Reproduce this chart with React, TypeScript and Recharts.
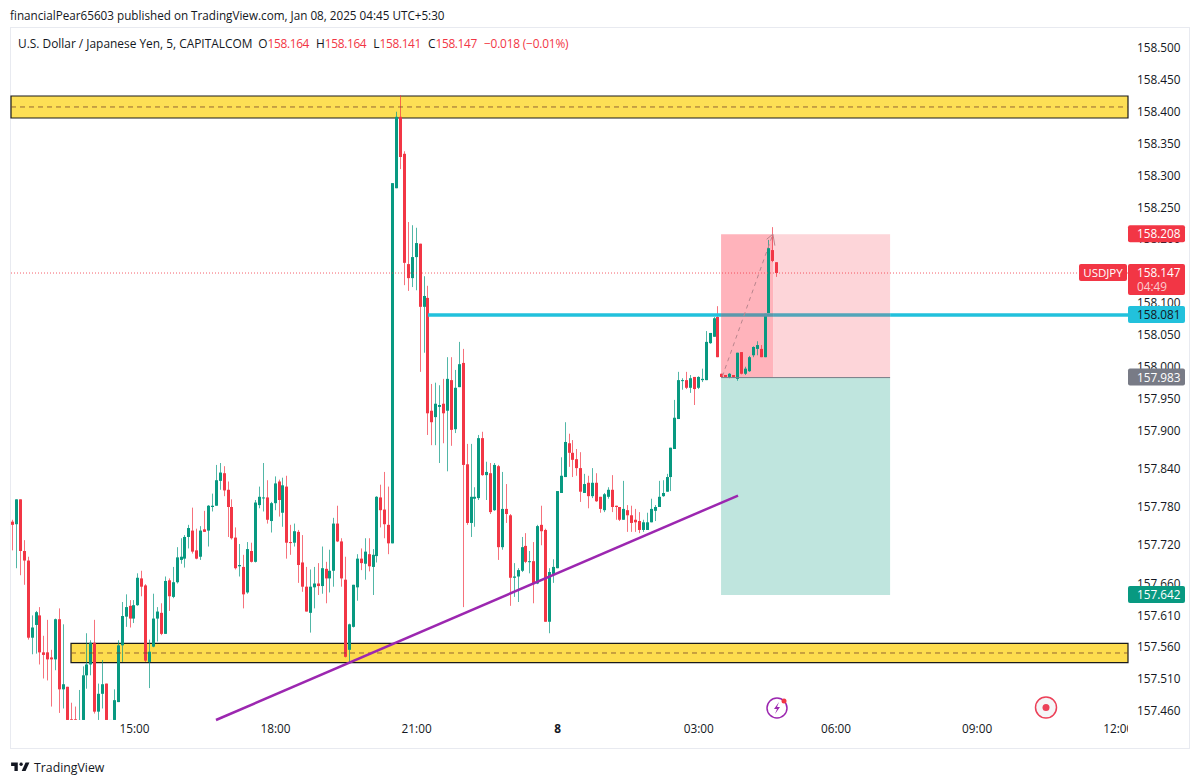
// App.tsx - USD/JPY 5 minute chart, TradingView snapshot style
import {
  Bar,
  ComposedChart,
  ReferenceArea,
  ReferenceLine,
  XAxis,
  YAxis,
} from "recharts";

const UP = "#089981";
const DOWN = "#f23645";
const CYAN = "#22c1dc";
const FONT = "'Open Sans', 'Noto Sans', sans-serif";
const PRICE_DOMAIN = [157.4459, 158.5235];

const opens = [
  157.757, 157.753, 157.792, 157.711, 157.696, 157.575, 157.595, 157.61, 157.552, 157.552,
  157.544, 157.541, 157.604, 157.494, 157.498, 157.447, 157.447, 157.446, 157.446, 157.516,
  157.533, 157.567, 157.459, 157.487, 157.503, 157.446, 157.446, 157.474, 157.563, 157.608,
  157.625, 157.605, 157.626, 157.668, 157.657, 157.537, 157.561, 157.605, 157.614, 157.581,
  157.665, 157.639, 157.662, 157.697, 157.699, 157.733, 157.743, 157.712, 157.702, 157.745,
  157.743, 157.78, 157.782, 157.821, 157.833, 157.807, 157.78, 157.732, 157.687, 157.686,
  157.646, 157.711, 157.694, 157.783, 157.794, 157.795, 157.758, 157.786, 157.82, 157.771,
  157.812, 157.725, 157.724, 157.741, 157.693, 157.655, 157.614, 157.654, 157.66, 157.656,
  157.683, 157.668, 157.68, 157.754, 157.726, 157.666, 157.556, 157.592, 157.654, 157.699,
  157.691, 157.706, 157.686, 157.703, 157.795, 157.776, 157.752, 157.723, 158.28, 158.392,
  158.334, 158.161, 158.139, 158.172, 158.193, 158.094, 158.108, 157.931, 157.921, 157.937,
  157.942, 157.931, 157.979, 157.902, 157.968, 158.006, 157.847, 157.755, 157.793, 157.794,
  157.888, 157.83, 157.833, 157.775, 157.844, 157.717, 157.777, 157.767, 157.669, 157.671,
  157.68, 157.719, 157.694, 157.695, 157.66, 157.752, 157.744, 157.6, 157.675, 157.684,
  157.802, 157.827, 157.88, 157.865, 157.855, 157.841, 157.802, 157.818, 157.797, 157.818,
  157.796, 157.775, 157.796, 157.807, 157.782, 157.78, 157.76, 157.775, 157.767, 157.76,
  157.758, 157.744, 157.744, 157.756, 157.774, 157.78, 157.797, 157.804, 157.827, 157.871,
  157.918, 157.978, 157.979, 157.967, 157.984, 157.967, 157.979, 157.979, 158.037, 158.047,
  158.078, 157.989, 157.987, 157.984, 157.987, 157.981, 158.023, 157.989, 157.993, 158.018,
  158.028, 158.028, 158.015, 158.084, 158.183, 158.164,
];

const highs = [
  157.76, 157.792, 157.792, 157.728, 157.702, 157.61, 157.617, 157.623, 157.578, 157.603,
  157.556, 157.605, 157.621, 157.596, 157.498, 157.473, 157.467, 157.493, 157.53, 157.582,
  157.571, 157.603, 157.503, 157.54, 157.503, 157.446, 157.494, 157.571, 157.631, 157.643,
  157.634, 157.634, 157.676, 157.68, 157.659, 157.572, 157.644, 157.623, 157.629, 157.671,
  157.668, 157.686, 157.717, 157.731, 157.736, 157.752, 157.779, 157.746, 157.75, 157.774,
  157.783, 157.801, 157.846, 157.849, 157.844, 157.82, 157.792, 157.748, 157.722, 157.705,
  157.725, 157.724, 157.791, 157.812, 157.849, 157.822, 157.788, 157.828, 157.823, 157.826,
  157.829, 157.752, 157.754, 157.744, 157.736, 157.686, 157.682, 157.686, 157.692, 157.718,
  157.694, 157.713, 157.763, 157.782, 157.731, 157.702, 157.597, 157.658, 157.706, 157.715,
  157.731, 157.731, 157.714, 157.797, 157.815, 157.835, 157.812, 158.288, 158.4, 158.426,
  158.338, 158.227, 158.222, 158.218, 158.193, 158.142, 158.127, 157.973, 157.975, 157.971,
  157.981, 158.015, 158.015, 157.995, 158.039, 158.028, 157.879, 157.879, 157.811, 157.893,
  157.898, 157.851, 157.849, 157.849, 157.846, 157.835, 157.816, 157.769, 157.692, 157.684,
  157.733, 157.739, 157.711, 157.725, 157.752, 157.782, 157.746, 157.684, 157.698, 157.805,
  157.858, 157.913, 157.895, 157.885, 157.871, 157.866, 157.832, 157.829, 157.841, 157.833,
  157.796, 157.802, 157.811, 157.83, 157.782, 157.78, 157.821, 157.783, 157.782, 157.777,
  157.772, 157.76, 157.771, 157.793, 157.783, 157.821, 157.822, 157.832, 157.873, 157.948,
  157.992, 157.982, 157.992, 157.987, 157.984, 157.985, 157.997, 158.056, 158.053, 158.078,
  158.095, 157.989, 157.987, 157.99, 157.987, 158.022, 158.023, 158.0, 158.017, 158.032,
  158.04, 158.034, 158.083, 158.199, 158.219, 158.164,
];

const lows = [
  157.712, 157.684, 157.673, 157.658, 157.572, 157.549, 157.55, 157.533, 157.511, 157.508,
  157.467, 157.524, 157.457, 157.464, 157.446, 157.446, 157.446, 157.446, 157.446, 157.495,
  157.516, 157.456, 157.446, 157.464, 157.446, 157.446, 157.446, 157.474, 157.537, 157.592,
  157.591, 157.598, 157.625, 157.64, 157.537, 157.496, 157.56, 157.569, 157.579, 157.581,
  157.617, 157.637, 157.66, 157.691, 157.685, 157.715, 157.707, 157.698, 157.697, 157.741,
  157.718, 157.773, 157.782, 157.807, 157.797, 157.733, 157.729, 157.682, 157.671, 157.621,
  157.644, 157.693, 157.693, 157.778, 157.773, 157.754, 157.74, 157.775, 157.765, 157.749,
  157.699, 157.705, 157.718, 157.661, 157.647, 157.616, 157.583, 157.621, 157.642, 157.644,
  157.629, 157.646, 157.655, 157.725, 157.655, 157.544, 157.535, 157.591, 157.633, 157.681,
  157.666, 157.679, 157.642, 157.693, 157.748, 157.731, 157.706, 157.723, 158.28, 158.31,
  158.128, 158.119, 158.125, 158.12, 157.992, 158.022, 157.893, 157.877, 157.877, 157.849,
  157.88, 157.836, 157.876, 157.896, 157.968, 157.623, 157.752, 157.733, 157.749, 157.791,
  157.829, 157.791, 157.769, 157.774, 157.697, 157.713, 157.755, 157.625, 157.639, 157.631,
  157.678, 157.692, 157.676, 157.629, 157.659, 157.72, 157.6, 157.582, 157.661, 157.684,
  157.802, 157.827, 157.843, 157.827, 157.829, 157.788, 157.802, 157.778, 157.794, 157.788,
  157.771, 157.772, 157.793, 157.772, 157.76, 157.758, 157.76, 157.741, 157.741, 157.741,
  157.739, 157.741, 157.744, 157.756, 157.758, 157.78, 157.796, 157.804, 157.805, 157.871,
  157.918, 157.964, 157.965, 157.959, 157.94, 157.965, 157.976, 157.979, 158.036, 158.047,
  158.015, 157.984, 157.984, 157.982, 157.983, 157.978, 157.988, 157.987, 157.992, 158.015,
  158.018, 158.015, 158.015, 158.084, 158.164, 158.141,
];

const closes = [
  157.752, 157.792, 157.711, 157.696, 157.575, 157.591, 157.615, 157.552, 157.548, 157.541,
  157.541, 157.604, 157.494, 157.502, 157.446, 157.446, 157.446, 157.446, 157.516, 157.533,
  157.567, 157.459, 157.487, 157.502, 157.446, 157.446, 157.477, 157.563, 157.609, 157.623,
  157.605, 157.626, 157.669, 157.655, 157.539, 157.553, 157.605, 157.616, 157.581, 157.664,
  157.64, 157.662, 157.701, 157.702, 157.733, 157.747, 157.71, 157.699, 157.743, 157.741,
  157.782, 157.782, 157.822, 157.834, 157.806, 157.78, 157.731, 157.684, 157.689, 157.643,
  157.714, 157.694, 157.787, 157.796, 157.795, 157.76, 157.786, 157.817, 157.791, 157.814,
  157.724, 157.724, 157.742, 157.689, 157.655, 157.616, 157.655, 157.66, 157.656, 157.684,
  157.668, 157.68, 157.754, 157.726, 157.668, 157.545, 157.596, 157.658, 157.699, 157.692,
  157.71, 157.687, 157.705, 157.796, 157.775, 157.753, 157.723, 158.288, 158.392, 158.329,
  158.163, 158.139, 158.172, 158.194, 158.094, 158.111, 157.927, 157.913, 157.942, 157.94,
  157.927, 157.981, 157.901, 157.967, 158.004, 157.846, 157.755, 157.796, 157.796, 157.888,
  157.83, 157.835, 157.772, 157.846, 157.717, 157.777, 157.769, 157.669, 157.671, 157.681,
  157.717, 157.694, 157.695, 157.659, 157.75, 157.742, 157.6, 157.678, 157.686, 157.805,
  157.829, 157.882, 157.865, 157.854, 157.841, 157.804, 157.816, 157.797, 157.818, 157.789,
  157.777, 157.8, 157.807, 157.78, 157.78, 157.76, 157.777, 157.767, 157.755, 157.756,
  157.744, 157.756, 157.756, 157.777, 157.78, 157.796, 157.802, 157.827, 157.873, 157.92,
  157.979, 157.979, 157.967, 157.982, 157.965, 157.984, 157.981, 158.039, 158.053, 158.076,
  158.015, 157.984, 157.984, 157.989, 157.984, 158.022, 157.989, 157.997, 158.015, 158.031,
  158.034, 158.015, 158.083, 158.186, 158.166, 158.147,
];

// 158.150 sits fully behind the last price tag, so it is left out
const priceTicks = [
  158.5, 158.45, 158.4, 158.35, 158.3, 158.25, 158.2, 158.1, 158.05, 158.0, 157.95,
  157.9, 157.84, 157.78, 157.72, 157.66, 157.61, 157.56, 157.51, 157.46,
];
const timeTicks = [31, 67, 103, 139, 175, 210, 246, 282];
const timeLabels = ["15:00", "18:00", "21:00", "8", "03:00", "06:00", "09:00", "12:00"];

const candles = opens.map((open, i) => ({
  slot: i,
  open,
  high: highs[i],
  low: lows[i],
  close: closes[i],
}));

function Candle(props: any) {
  const { x, y, width, height, payload } = props;
  const { open, high, low, close } = payload;
  const color = close < open ? DOWN : UP;
  const k = high > low ? height / (high - low) : 0;
  const top = y + (high - Math.max(open, close)) * k;
  const bodyH = Math.max(Math.abs(open - close) * k, 1);
  const cx = Math.round(x + width / 2 - 0.5) + 0.5;
  return (
    <g>
      <rect x={cx - 0.5} y={y} width={1} height={height} fill={color} fillOpacity={0.7} />
      <rect x={cx - 1.5} y={top} width={3} height={bodyH} fill={color} />
    </g>
  );
}

function TimeTick(props: any) {
  const { x, y, payload } = props;
  const label = timeLabels[timeTicks.indexOf(payload.value)];
  return (
    <g>
      <defs>
        <clipPath id={`tick-${payload.value}`}>
          <rect x={0} y={700} width={1128} height={60} />
        </clipPath>
      </defs>
      <text
        x={x}
        y={y}
        textAnchor="middle"
        dy={4}
        fontFamily={FONT}
        fontSize={11.8}
        fontWeight={label === "8" ? 700 : 400}
        fill="#131722"
        clipPath={`url(#tick-${payload.value})`}
      >
        {label}
      </text>
    </g>
  );
}

// price tag sitting on the right scale, placed by the y value of its reference line
function PriceTag(props: any) {
  const { viewBox, text, sub, bg, fg = "#fff" } = props;
  const top = viewBox.y - 9;
  const h = sub ? 31 : 17;
  return (
    <g fontFamily={FONT} fontSize={11.8}>
      <rect x={1128} y={top} width={57} height={h} rx={2} fill={bg} />
      <text x={1137} y={top + 13} fill={fg}>
        {text}
      </text>
      {sub && (
        <text x={1137} y={top + 27} fill={fg} fillOpacity={0.75}>
          {sub}
        </text>
      )}
    </g>
  );
}

function SymbolTag(props: any) {
  const cy = props.viewBox.y;
  return (
    <g fontFamily={FONT} fontSize={11.5}>
      <rect x={1079} y={cy - 9} width={48} height={17} rx={2} fill={DOWN} />
      <text x={1103} y={cy + 4} textAnchor="middle" fill="#fff">
        USDJPY
      </text>
    </g>
  );
}

function Header() {
  const value = { color: DOWN, letterSpacing: -0.35, marginRight: 7 };
  return (
    <>
      <div style={{ position: "absolute", left: 10, top: 7, fontSize: 11.7, color: "#131722", whiteSpace: "nowrap" }}>
        financialPear65603 published on TradingView.com, Jan 08, 2025 04:45 UTC+5:30
      </div>
      <div style={{ position: "absolute", left: 18, top: 35, fontSize: 11.9, color: "#131722", whiteSpace: "nowrap" }}>
        <span style={{ marginRight: 6 }}>U.S. Dollar / Japanese Yen, 5, CAPITALCOM</span>O
        <span style={value}>158.164</span>H<span style={value}>158.164</span>L
        <span style={value}>158.141</span>C<span style={value}>158.147</span>
        <span style={{ color: DOWN, letterSpacing: -0.2 }}>−0.018 (−0.01%)</span>
      </div>
    </>
  );
}

function Footer() {
  return (
    <>
      <svg style={{ position: "absolute", left: 10, top: 760 }} width={20} height={14} viewBox="0 5 36 18">
        <path d="M14 6H2v6h6v9h6V6Z" fill="#131722" />
        <circle cx={20} cy={9} r={3} fill="#131722" />
        <path d="M28 6h7l-7 15h-7l7-15Z" fill="#131722" />
      </svg>
      <div style={{ position: "absolute", left: 34, top: 759, fontSize: 12.3, fontWeight: 500, color: "#131722" }}>
        TradingView
      </div>
      <svg style={{ position: "absolute", left: 764, top: 694 }} width={28} height={28}>
        <circle cx={13} cy={14} r={10} fill="#fff" stroke="#9c27b0" strokeWidth={1.5} />
        <path d="M15 8l-5 7h3l-2 5 5-7h-3l2-5Z" fill="#9c27b0" />
        <circle cx={20} cy={7} r={2.5} fill={DOWN} />
      </svg>
      <svg style={{ position: "absolute", left: 1033, top: 694 }} width={28} height={28}>
        <circle cx={13} cy={13.5} r={10.5} fill="#f5f5f7" stroke="#ec4058" strokeWidth={1.5} />
        <circle cx={13} cy={13.5} r={3.5} fill="#ec4058" />
      </svg>
    </>
  );
}

function Frame() {
  const line = "#e8eaf0";
  return (
    <>
      <div style={{ position: "absolute", left: 10, top: 27, width: 1180, height: 722, borderTop: `1px solid ${line}`, borderBottom: `1px solid ${line}`, borderLeft: `1px solid ${line}`, boxSizing: "border-box" }} />
      <div style={{ position: "absolute", left: 1189, top: 27, width: 1, height: 722, background: line }} />
    </>
  );
}

// second transparent chart on the same scale, so the tags cover the axis labels
function TagLayer() {
  return (
    <ComposedChart
      width={1200}
      height={784}
      data={candles}
      margin={{ top: 33, right: 72, bottom: 64, left: 11 }}
      style={{ position: "absolute", left: 0, top: 0 }}
    >
      <XAxis dataKey="slot" type="number" domain={[-0.5, 284.5]} hide />
      <YAxis domain={PRICE_DOMAIN} allowDataOverflow hide />
      <ReferenceLine y={158.208} stroke="none" ifOverflow="visible" label={<PriceTag text="158.208" bg={DOWN} />} />
      <ReferenceLine y={158.147} stroke="none" ifOverflow="visible" label={<PriceTag text="158.147" sub="04:49" bg={DOWN} />} />
      <ReferenceLine y={158.147} stroke="none" ifOverflow="visible" label={<SymbolTag />} />
      <ReferenceLine y={158.081} stroke="none" ifOverflow="visible" label={<PriceTag text="158.081" bg={CYAN} fg="#131722" />} />
      <ReferenceLine y={157.983} stroke="none" ifOverflow="visible" label={<PriceTag text="157.983" bg="#787b86" />} />
      <ReferenceLine y={157.642} stroke="none" ifOverflow="visible" label={<PriceTag text="157.642" bg={UP} />} />
    </ComposedChart>
  );
}

export default function App() {
  return (
    <div style={{ position: "absolute", left: 0, top: 0, width: 1200, height: 784, background: "#fff", overflow: "hidden", fontFamily: FONT }}>
      <Frame />
      <ComposedChart
        width={1200}
        height={784}
        data={candles}
        margin={{ top: 33, right: 11, bottom: 34, left: 11 }}
        style={{ position: "absolute", left: 0, top: 0 }}
      >
        <XAxis
          dataKey="slot"
          type="number"
          domain={[-0.5, 284.5]}
          allowDataOverflow
          ticks={timeTicks}
          interval={0}
          height={30}
          axisLine={false}
          tickLine={false}
          tickSize={0}
          tickMargin={9}
          tick={<TimeTick />}
        />
        <YAxis
          orientation="right"
          domain={PRICE_DOMAIN}
          allowDataOverflow
          ticks={priceTicks}
          interval={0}
          width={61}
          axisLine={false}
          tickLine={false}
          tickSize={0}
          tickMargin={9}
          tickFormatter={(v: number) => v.toFixed(3)}
          tick={{ fontSize: 11.8, fontFamily: FONT, fill: "#131722", textAnchor: "start" }}
        />

        {/* support and resistance zones */}
        <ReferenceArea y1={158.3902} y2={158.4247} fill="#fddf55" fillOpacity={1} stroke="#1a1a1a" strokeWidth={1.2} />
        <ReferenceArea x1={14.81} y1={157.536} y2={157.566} fill="#fddc4e" fillOpacity={1} stroke="#1a1a1a" strokeWidth={1.2} />

        {/* short position box */}
        <ReferenceArea x1={180.67} x2={193.94} y1={157.983} y2={158.208} fill="#ffb3bb" fillOpacity={1} stroke="none" />
        <ReferenceArea x1={193.94} x2={223.8} y1={157.983} y2={158.208} fill="#fdd5d9" fillOpacity={1} stroke="none" />
        <ReferenceArea x1={180.67} x2={223.8} y1={157.642} y2={157.983} fill="#bfe5de" fillOpacity={1} stroke="none" />

        <Bar dataKey={(d: any) => [d.low, d.high]} barSize={3} shape={<Candle />} isAnimationActive={false} />

        <ReferenceLine segment={[{ x: -0.5, y: 158.4075 }, { x: 284.5, y: 158.4075 }]} stroke="#7a4a2a" strokeOpacity={0.8} strokeDasharray="5 4" />
        <ReferenceLine segment={[{ x: 14.81, y: 157.551 }, { x: 284.5, y: 157.551 }]} stroke="#7a4a2a" strokeOpacity={0.8} strokeDasharray="5 4" />
        <ReferenceLine segment={[{ x: 180.67, y: 157.983 }, { x: 223.8, y: 157.983 }]} stroke="#787b86" />
        <ReferenceLine y={158.147} stroke={DOWN} strokeDasharray="1 2" strokeOpacity={0.8} />

        {/* key level, darker where it runs under the position box */}
        <ReferenceLine segment={[{ x: 105.9, y: 158.081 }, { x: 180.67, y: 158.081 }]} stroke={CYAN} strokeWidth={3.5} />
        <ReferenceLine segment={[{ x: 180.67, y: 158.081 }, { x: 193.94, y: 158.081 }]} stroke="#5c98ab" strokeWidth={3.5} />
        <ReferenceLine segment={[{ x: 193.94, y: 158.081 }, { x: 223.8, y: 158.081 }]} stroke="#52a5b9" strokeWidth={3.5} />
        <ReferenceLine segment={[{ x: 223.8, y: 158.081 }, { x: 284.5, y: 158.081 }]} stroke={CYAN} strokeWidth={3.5} />

        {/* trend line */}
        <ReferenceLine segment={[{ x: 51.8, y: 157.4459 }, { x: 185, y: 157.798 }]} stroke="#9c27b0" strokeWidth={2.5} />

        {/* path of the trade with its arrow head */}
        <ReferenceLine segment={[{ x: 181, y: 157.985 }, { x: 193.9, y: 158.208 }]} stroke="#b9858d" strokeDasharray="4 4" />
        <ReferenceLine segment={[{ x: 192.3, y: 158.2 }, { x: 193.9, y: 158.208 }]} stroke="#b9858d" />
        <ReferenceLine segment={[{ x: 194.4, y: 158.19 }, { x: 193.9, y: 158.208 }]} stroke="#b9858d" />
      </ComposedChart>
      <TagLayer />
      <Header />
      <Footer />
    </div>
  );
}
